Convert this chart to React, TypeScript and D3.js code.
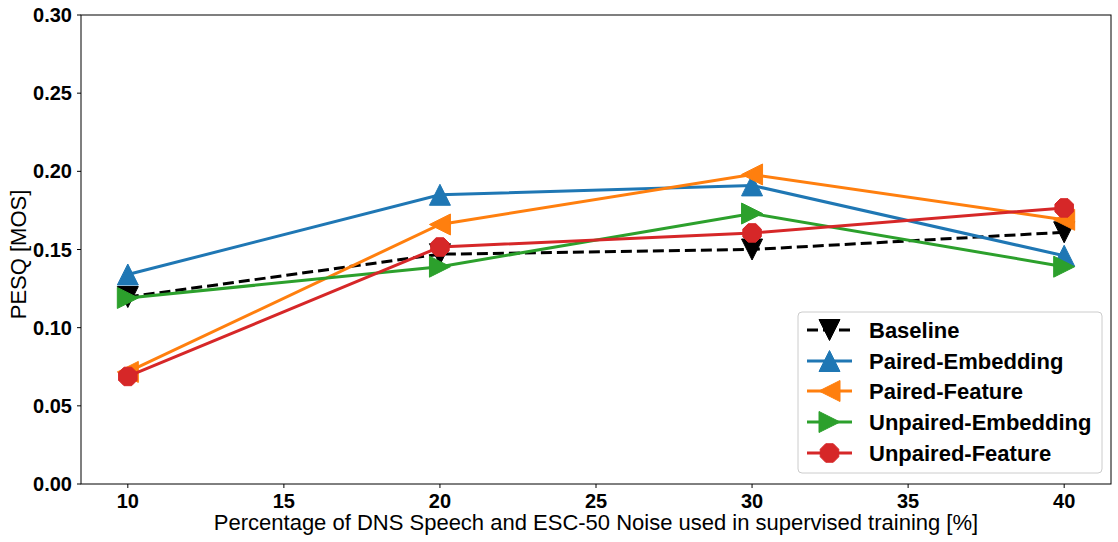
import React from "react";
import * as d3 from "d3";

const xValues = [10, 20, 30, 40];
const xTicks = [10, 15, 20, 25, 30, 35, 40];
const yTicks = [0, 0.05, 0.1, 0.15, 0.2, 0.25, 0.3];

const baseline = [0.1196, 0.147, 0.150, 0.161];
const pairedEmbedding = [0.134, 0.185, 0.191, 0.146];
const pairedFeature = [0.0717, 0.166, 0.198, 0.169];
const unpairedEmbedding = [0.119, 0.139, 0.173, 0.139];
const unpairedFeature = [0.0688, 0.1516, 0.1606, 0.1766];

const seriesNames = ["Baseline", "Paired-Embedding", "Paired-Feature", "Unpaired-Embedding", "Unpaired-Feature"];
const seriesColors = ["#000000", "#1f77b4", "#ff7f0e", "#2ca02c", "#d62728"];
const seriesMarkers = ["down", "up", "left", "right", "circle"];
const seriesValues = [baseline, pairedEmbedding, pairedFeature, unpairedEmbedding, unpairedFeature];

const W = 1118, H = 542;
const L = 81, R = 1111, T = 15, B = 484;
const FONT = "Liberation Sans, Arial, sans-serif";

function Marker({ kind, x, y, color }: { kind: string; x: number; y: number; color: string }) {
  const s = 10.5;
  let d = "";
  if (kind === "down") d = `M${x - s},${y - s}L${x + s},${y - s}L${x},${y + s}Z`;
  else if (kind === "up") d = `M${x - s},${y + s}L${x + s},${y + s}L${x},${y - s}Z`;
  else if (kind === "left") d = `M${x + s},${y - s}L${x + s},${y + s}L${x - s},${y}Z`;
  else if (kind === "right") d = `M${x - s},${y - s}L${x - s},${y + s}L${x + s},${y}Z`;
  if (kind === "circle") {
    const r = 10;
    const pts = d3.range(8).map((i) => {
      const a = (Math.PI / 8) + (i * Math.PI) / 4;
      return `${x + r * Math.cos(a)},${y + r * Math.sin(a)}`;
    });
    return <polygon points={pts.join(" ")} fill={color} stroke={color} strokeWidth={1} />;
  }
  return <path d={d} fill={color} stroke={color} strokeWidth={1} strokeLinejoin="miter" />;
}

export default function App() {
  const x = d3.scaleLinear().domain([8.5, 41.5]).range([L, R]);
  const y = d3.scaleLinear().domain([0, 0.3]).range([B, T]);
  const line = d3.line<number>().x((_, i) => x(xValues[i])).y((v) => y(v));

  const legX = 798, legY = 312, legW = 304, legH = 161;
  const rowY = [330, 361, 391, 422, 453];

  return (
    <svg width={W} height={H} style={{ position: "absolute", left: 0, top: 0, background: "#fff" }} fontFamily={FONT}>
      <rect x={0} y={0} width={W} height={H} fill="#fff" />
      {/* ticks */}
      {yTicks.map((t) => (
        <g key={"y" + t}>
          <line x1={L - 4} x2={L} y1={y(t)} y2={y(t)} stroke="#000" strokeWidth={1} />
          <text x={L - 9} y={y(t)} dy="0.35em" textAnchor="end" fontSize={20} fontWeight="bold">
            {d3.format(".2f")(t)}
          </text>
        </g>
      ))}
      {xTicks.map((t) => (
        <g key={"x" + t}>
          <line x1={x(t)} x2={x(t)} y1={B} y2={B + 4} stroke="#000" strokeWidth={1} />
          <text x={x(t)} y={B + 24} textAnchor="middle" fontSize={20} fontWeight="bold">
            {t}
          </text>
        </g>
      ))}
      <text x={(L + R) / 2} y={530} textAnchor="middle" fontSize={22}>
        Percentage of DNS Speech and ESC-50 Noise used in supervised training [%]
      </text>
      <text transform={`translate(26, ${(T + B) / 2 + 5}) rotate(-90)`} textAnchor="middle" fontSize={22}>
        PESQ [MOS]
      </text>

      {/* series */}
      {seriesValues.map((vals, si) => (
        <g key={seriesNames[si]}>
          <path
            d={line(vals) || ""}
            fill="none"
            stroke={seriesColors[si]}
            strokeWidth={3}
            strokeDasharray={si === 0 ? "11,5" : undefined}
          />
          {vals.map((v, i) => (
            <Marker key={i} kind={seriesMarkers[si]} x={x(xValues[i])} y={y(v)} color={seriesColors[si]} />
          ))}
        </g>
      ))}

      <rect x={L} y={T} width={R - L} height={B - T} fill="none" stroke="#000" strokeWidth={1} />

      {/* legend */}
      <rect x={legX} y={legY} width={legW} height={legH} rx={4} fill="#fff" fillOpacity={0.8} stroke="#ccc" strokeWidth={1} />
      {seriesNames.map((n, i) => (
        <g key={"leg" + n}>
          <line
            x1={807}
            x2={852}
            y1={rowY[i]}
            y2={rowY[i]}
            stroke={seriesColors[i]}
            strokeWidth={3}
            strokeDasharray={i === 0 ? "11,5" : undefined}
          />
          <Marker kind={seriesMarkers[i]} x={829.5} y={rowY[i]} color={seriesColors[i]} />
          <text x={869} y={rowY[i]} dy="0.35em" fontSize={22} fontWeight="bold">
            {n}
          </text>
        </g>
      ))}
    </svg>
  );
}
